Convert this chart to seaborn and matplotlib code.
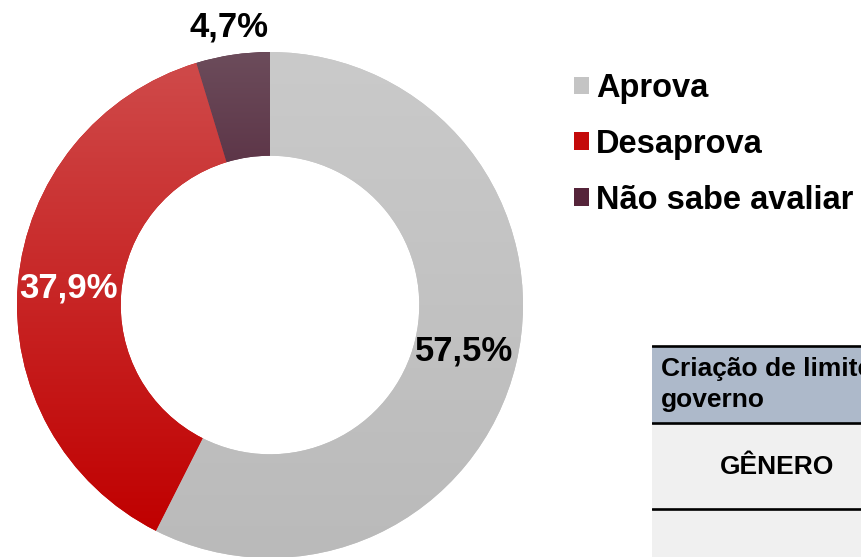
import matplotlib
matplotlib.use("Agg")
import matplotlib.pyplot as plt
import matplotlib.colors as mcolors
from matplotlib.patches import Rectangle
import numpy as np
import seaborn as sns

# data
categories = ["Aprova", "Desaprova", "Não sabe avaliar"]
values = [57.5, 37.9, 4.7]
value_labels = ["57,5%", "37,9%", "4,7%"]

# styling
colors = ["#c4c4c4", "#c40a0a", "#55243a"]
grad_top = ["#cacaca", "#cf4a4a", "#6c4c5b"]
grad_bottom = ["#bababa", "#c00000", "#4a1a30"]
label_colors = ["black", "white", "black"]
label_r = [0.79, 0.80, 1.11]

sns.set_theme(style="white")
plt.rcParams["font.family"] = ["Liberation Sans", "DejaVu Sans"]
plt.rcParams["text.color"] = "black"

W, H = 862, 557
fig = plt.figure(figsize=(W / 100, H / 100), dpi=100)

# donut
ax = fig.add_axes([17 / W, -1 / H, 506 / W, 506 / H])
wedges, _ = ax.pie(values, colors=colors, startangle=90, counterclock=False,
                   wedgeprops=dict(width=0.41, linewidth=0))
ax.set_xlim(-1, 1)
ax.set_ylim(-1, 1)
ax.axis("off")

# vertical gradient for every slice
for w, c0, c1 in zip(wedges, grad_top, grad_bottom):
    verts = w.get_path().vertices
    y0, y1 = verts[:, 1].min(), verts[:, 1].max()
    cmap = mcolors.LinearSegmentedColormap.from_list("g", [c1, c0])
    grad = np.linspace(0, 1, 256).reshape(-1, 1)
    im = ax.imshow(grad, cmap=cmap, extent=(-1, 1, y0, y1), origin="lower",
                   aspect="auto", zorder=w.get_zorder() + 0.1)
    im.set_clip_path(w)
ax.set_xlim(-1, 1)
ax.set_ylim(-1, 1)

for w, txt, col, r in zip(wedges, value_labels, label_colors, label_r):
    ang = np.deg2rad((w.theta1 + w.theta2) / 2)
    ax.text(r * np.cos(ang), r * np.sin(ang), txt, ha="center", va="center",
            fontsize=25, fontweight="bold", color=col, zorder=5)

# legend
leg = fig.legend(wedges, categories, loc="upper left",
                 bbox_to_anchor=(574 / W, 1 - 73 / H), frameon=False,
                 prop=dict(size=23.5, weight="bold"), handlelength=0.45,
                 handleheight=0.45, handletextpad=0.22, labelspacing=0.76,
                 borderpad=0, borderaxespad=0)
for t in leg.get_texts():
    t.set_color("black")

# cropped table at bottom right
tax = fig.add_axes([652 / W, 0, (W - 652) / W, 213 / H])
tax.set_xlim(0, W - 652)
tax.set_ylim(557, 344)
tax.axis("off")
tax.add_patch(Rectangle((0, 346), 300, 77, color="#adb9ca", lw=0))
tax.add_patch(Rectangle((0, 423), 300, 140, color="#f0f0f0", lw=0))
for y in [345.5, 423, 508.5]:
    tax.axhline(y, color="black", lw=1.9)
tax.text(9, 369, "Criação de limites de gastos do", fontsize=19, fontweight="bold",
         va="center", ha="left", clip_on=True)
tax.text(9, 400, "governo", fontsize=19, fontweight="bold",
         va="center", ha="left", clip_on=True)
tax.text(125, 467, "GÊNERO", fontsize=19, fontweight="bold",
         va="center", ha="center", clip_on=True)

fig.savefig("out.png", dpi=100)
